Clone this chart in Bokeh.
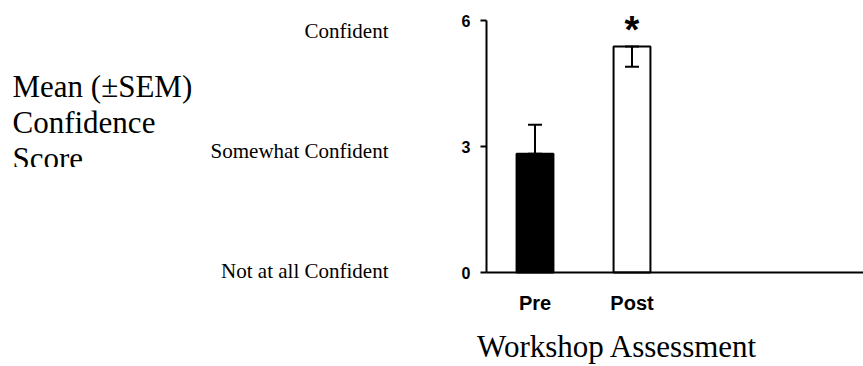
from bokeh.plotting import figure
from bokeh.models import Range1d, FixedTicker, Whisker, ColumnDataSource
from bokeh.core.properties import value
from bokeh.embed import file_html
from bokeh.resources import INLINE

# ---- data ----
groups = ["Pre", "Post"]
group_pos = [1, 3]
means = [2.83, 5.38]
sem_up = [0.69, 0.0]
sem_down = [0.0, 0.48]
bar_colors = ["black", "white"]
y_ticks = [0, 3, 6]
level_labels = ["Not at all Confident", "Somewhat Confident", "Confident"]
level_y = [0.03, 2.9, 5.75]
ylabel_lines = ["Mean (\u00b1SEM)", "Confidence", "Score"]
xlabel = "Workshop Assessment"
sig_marks = ["", "*"]

# ---- layout constants (pixels) ----
W, H = 863, 366
X0_PX, Y0_PX = 486, 272      # where the two axes meet
PX_X, PX_Y = 48.5, 42.0      # pixels per data unit

def dx(px):
    return (px - X0_PX) / PX_X

def dy(px):
    return (Y0_PX - px) / PX_Y

p = figure(width=W, height=H, output_backend="svg", toolbar_location=None,
           x_range=Range1d(dx(0), dx(W)), y_range=Range1d(dy(H), dy(0)),
           min_border=0, title_location=None, outline_line_color=None,
           background_fill_color="white", border_fill_color="white")
p.grid.visible = False

src = ColumnDataSource(dict(x=group_pos, top=means, color=bar_colors,
                            upper=[m + u for m, u in zip(means, sem_up)],
                            lower=[m - d for m, d in zip(means, sem_down)],
                            mark=sig_marks))
p.vbar(x="x", top="top", width=0.76, bottom=0, fill_color="color",
       line_color="black", line_width=2, source=src)

wh = Whisker(base="x", upper="upper", lower="lower", source=src,
             line_color="black", line_width=2, level="overlay")
wh.upper_head.size = 14
wh.lower_head.size = 14
wh.upper_head.line_width = 2
wh.lower_head.line_width = 2
p.add_layout(wh)

p.text(x="x", y="top", text="mark", source=src, text_align="center",
       text_baseline="alphabetic", text_font=value("Liberation Sans"),
       text_font_style="bold", text_font_size="38px", text_color="black",
       y_offset=-17)

# ---- axes, pinned at the origin ----
ya = p.yaxis[0]
ya.fixed_location = 0
ya.bounds = (min(y_ticks), max(y_ticks))
ya.ticker = FixedTicker(ticks=y_ticks)
ya.axis_line_width = 2
ya.axis_line_color = "black"
ya.major_tick_line_width = 2
ya.major_tick_line_color = "black"
ya.major_tick_out = 6
ya.major_tick_in = 0
ya.minor_tick_line_color = None
ya.major_label_text_font = "Liberation Sans"
ya.major_label_text_font_style = "bold"
ya.major_label_text_font_size = "16px"
ya.major_label_text_color = "black"
ya.major_label_standoff = 10

xa = p.xaxis[0]
xa.fixed_location = 0
xa.bounds = (0, dx(W))
xa.ticker = FixedTicker(ticks=group_pos)
xa.major_label_overrides = {gp: g for gp, g in zip(group_pos, groups)}
xa.axis_line_width = 2
xa.axis_line_color = "black"
xa.major_tick_line_color = None
xa.major_tick_out = 0
xa.major_tick_in = 0
xa.minor_tick_line_color = None
xa.major_label_text_font = "Liberation Sans"
xa.major_label_text_font_style = "bold"
xa.major_label_text_font_size = "20px"
xa.major_label_text_color = "black"
xa.major_label_standoff = 19

# ---- texts around the plot ----
p.text(x=[dx(388)] * len(level_labels), y=level_y, text=level_labels,
       text_align="right", text_baseline="alphabetic",
       text_font=value("Liberation Serif"), text_font_size="21px",
       text_color="black")

p.text(x=[dx(12)] * len(ylabel_lines),
       y=[dy(86 + 36 * i) for i in range(len(ylabel_lines))],
       text=ylabel_lines, text_align="left", text_baseline="alphabetic",
       text_font=value("Liberation Serif"), text_font_size="31px",
       text_color="black")
# the reference cuts the bottom of the last line off
p.quad(left=dx(0), right=dx(200), top=dy(166.5), bottom=dy(190),
       fill_color="white", line_color=None)

p.text(x=[dx(617)], y=[dy(345.5)], text=[xlabel], text_align="center",
       text_baseline="alphabetic", text_font=value("Liberation Serif"),
       text_font_size="31px", text_color="black")

open("out.html", "w").write(file_html(p, INLINE))
